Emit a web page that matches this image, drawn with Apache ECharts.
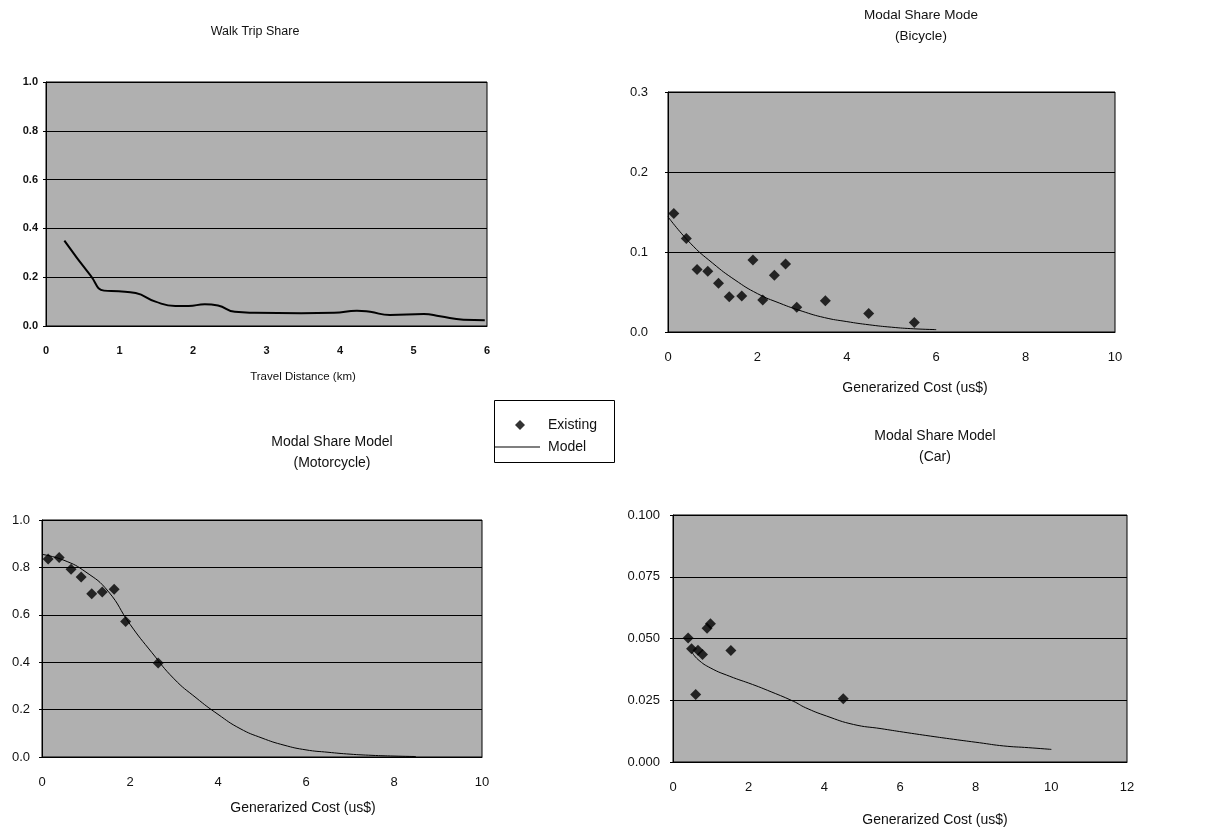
<!DOCTYPE html>
<html><head><meta charset="utf-8">
<script src="https://cdn.jsdelivr.net/npm/echarts@6/dist/echarts.min.js"></script>
<style>html,body{margin:0;padding:0;background:#fff}#c{width:1213px;height:831px}</style>
</head><body><div id="c"></div>
<script>
// ---- data ----
const walkX = [0.25,0.61,0.79,0.99,1.22,1.49,1.76,1.94,2.16,2.34,2.57,2.84,3.47,3.92,4.23,4.41,4.68,5.14,5.36,5.68,5.97];
const walkY = [0.35,0.205,0.145,0.142,0.135,0.10,0.082,0.082,0.089,0.084,0.058,0.054,0.052,0.054,0.063,0.058,0.045,0.049,0.040,0.026,0.024];

const bikeExistX = [0.13,0.41,0.65,0.89,1.13,1.37,1.65,1.90,2.12,2.38,2.63,2.88,3.52,4.49,5.51];
const bikeExistY = [0.148,0.117,0.078,0.076,0.061,0.044,0.045,0.090,0.040,0.071,0.085,0.031,0.039,0.023,0.012];
const bikeModelX = [0,0.5,1,1.5,2,2.5,3,3.5,4,4.5,5,5.5,6];
const bikeModelY = [0.144,0.111,0.086,0.065,0.048,0.036,0.026,0.018,0.013,0.009,0.006,0.004,0.003];

const motoExistX = [0.14,0.39,0.66,0.89,1.13,1.37,1.64,1.90,2.64];
const motoExistY = [0.835,0.842,0.792,0.760,0.689,0.696,0.708,0.572,0.397];
const motoModelX = [0,0.5,1,1.5,2,2.5,3,3.5,4,4.5,5,5.5,6,6.5,7,7.5,8,8.5];
const motoModelY = [0.855,0.83,0.78,0.70,0.56,0.44,0.33,0.25,0.18,0.12,0.08,0.05,0.03,0.02,0.012,0.007,0.004,0.002];

const carExistX = [0.40,0.49,0.60,0.66,0.78,0.90,0.99,1.53,4.50];
const carExistY = [0.0502,0.0458,0.0273,0.0452,0.0435,0.0542,0.0560,0.0451,0.0256];
const carModelX = [0.5,0.66,1.0,1.5,2.1,2.5,3.18,3.5,4.06,4.77,5.5,6.09,6.8,7.41,8.1,8.74,9.4,10.0];
const carModelY = [0.0445,0.0415,0.038,0.0347,0.0314,0.029,0.0246,0.022,0.0186,0.0152,0.0135,0.0121,0.0105,0.0092,0.0078,0.0065,0.0058,0.0051];

const titles = ['Walk Trip Share', 'Modal Share Mode\n(Bicycle)', 'Modal Share Model\n(Motorcycle)', 'Modal Share Model\n(Car)'];
const xNames = ['Travel Distance (km)', 'Generarized Cost (us$)', 'Generarized Cost (us$)', 'Generarized Cost (us$)'];

const pair = (xs, ys) => xs.map((x, i) => [x, ys[i]]);

const FONT = 'Liberation Sans, Arial, sans-serif';
const BG = '#b0b0b0';

const grids = [
  {left: 46, top: 82, width: 441, height: 244},
  {left: 668, top: 92, width: 447, height: 240},
  {left: 42, top: 520, width: 440, height: 237},
  {left: 673, top: 515, width: 454, height: 247}
].map(g => Object.assign({show: true, backgroundColor: BG, borderColor: '#000', borderWidth: 1}, g));

const xCfg = [
  {min: 0, max: 6, interval: 1},
  {min: 0, max: 10, interval: 2},
  {min: 0, max: 10, interval: 2},
  {min: 0, max: 12, interval: 2}
];
const yCfg = [
  {min: 0, max: 1, interval: 0.2, dec: 1, margin: 8},
  {min: 0, max: 0.3, interval: 0.1, dec: 1, margin: 20},
  {min: 0, max: 1, interval: 0.2, dec: 1, margin: 12},
  {min: 0, max: 0.1, interval: 0.025, dec: 3, margin: 13}
];

const xAxes = xCfg.map((c, i) => ({
  type: 'value', gridIndex: i, min: c.min, max: c.max, interval: c.interval,
  axisLine: {show: true, lineStyle: {color: '#000'}},
  axisTick: {show: false},
  splitLine: {show: false},
  axisLabel: {color: '#111', fontFamily: FONT, fontSize: i === 0 ? 11 : 13, fontWeight: i === 0 ? 'bold' : 'normal', margin: 19}
}));
const yAxes = yCfg.map((c, i) => ({
  type: 'value', gridIndex: i, min: c.min, max: c.max, interval: c.interval,
  axisLine: {show: true, lineStyle: {color: '#000'}},
  axisTick: {show: true, length: 3, lineStyle: {color: '#000'}},
  splitLine: {show: true, lineStyle: {color: '#000', width: 1}},
  axisLabel: {color: '#111', fontFamily: FONT, fontSize: i === 0 ? 11 : 13, fontWeight: i === 0 ? 'bold' : 'normal', margin: c.margin,
    formatter: v => v.toFixed(c.dec)}
}));

const titleCfg = [
  {x: 250, y: 16, size: 12.5},
  {x: 916, y: 0, size: 13.5},
  {x: 327, y: 427, size: 14},
  {x: 930, y: 421, size: 14}
];
const nameCfg = [
  {x: 298, y: 366, size: 11.5},
  {x: 910, y: 376, size: 14},
  {x: 298, y: 796, size: 14},
  {x: 930, y: 808, size: 14}
];

const title = titleCfg.map((t, i) => ({
  text: titles[i], left: t.x, top: t.y, textAlign: 'center',
  textStyle: {fontFamily: FONT, fontSize: t.size, fontWeight: 'normal', color: '#111', lineHeight: 21}
})).concat(nameCfg.map((t, i) => ({
  text: xNames[i], left: t.x, top: t.y, textAlign: 'center',
  textStyle: {fontFamily: FONT, fontSize: t.size, fontWeight: 'normal', color: '#111'}
})));

const existStyle = {type: 'scatter', symbol: 'diamond', symbolSize: 11, itemStyle: {color: '#000'}, z: 5};
const modelStyle = {type: 'line', showSymbol: false, smooth: true, lineStyle: {color: '#000', width: 1}, itemStyle: {color: '#000'}};

const series = [
  {name: 'Walk', type: 'line', xAxisIndex: 0, yAxisIndex: 0, data: pair(walkX, walkY), showSymbol: false, smooth: true,
   lineStyle: {color: '#000', width: 2}},
  Object.assign({name: 'Existing', xAxisIndex: 1, yAxisIndex: 1, data: pair(bikeExistX, bikeExistY)}, existStyle),
  Object.assign({name: 'Model', xAxisIndex: 1, yAxisIndex: 1, data: pair(bikeModelX, bikeModelY)}, modelStyle),
  Object.assign({name: 'Existing', xAxisIndex: 2, yAxisIndex: 2, data: pair(motoExistX, motoExistY)}, existStyle),
  Object.assign({name: 'Model', xAxisIndex: 2, yAxisIndex: 2, data: pair(motoModelX, motoModelY)}, modelStyle),
  Object.assign({name: 'Existing', xAxisIndex: 3, yAxisIndex: 3, data: pair(carExistX, carExistY)}, existStyle),
  Object.assign({name: 'Model', xAxisIndex: 3, yAxisIndex: 3, data: pair(carModelX, carModelY)}, modelStyle)
];

const legendText = {fontFamily: FONT, fontSize: 14, color: '#111'};
const legend = [
  {data: [{name: 'Existing', icon: 'diamond'}], left: 515, top: 418, itemWidth: 10, itemHeight: 10, itemGap: 0,
   textStyle: Object.assign({padding: [0, 0, 0, 18]}, legendText), selectedMode: false, padding: 0},
  {data: [{name: 'Model', icon: 'path://M0,0 L46,0 L46,1 L0,1 Z'}], left: 494, top: 440, itemWidth: 46, itemHeight: 1, itemGap: 0,
   textStyle: Object.assign({padding: [0, 0, 0, 3]}, legendText), selectedMode: false, padding: 0}
];

const chart = echarts.init(document.getElementById('c'), null, {renderer: 'canvas'});
chart.setOption({
  animation: false,
  backgroundColor: '#fff',
  title, grid: grids, xAxis: xAxes, yAxis: yAxes, series, legend,
  graphic: [{type: 'rect', left: 492, top: 398, shape: {width: 120, height: 62}, style: {fill: 'none', stroke: '#000', lineWidth: 1}, z: 10}]
});
</script></body></html>
